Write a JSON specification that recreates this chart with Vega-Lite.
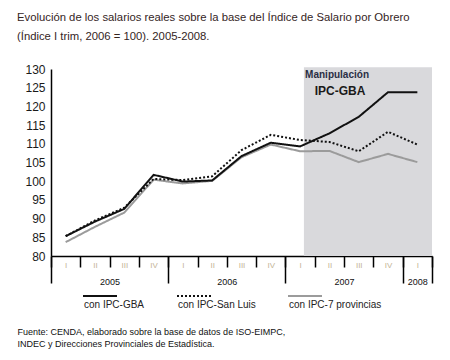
{
  "$schema": "https://vega.github.io/schema/vega-lite/v6.json",
  "width": 381,
  "height": 187,
  "autosize": {"type": "none"},
  "padding": {"left": 51, "top": 69, "right": 18, "bottom": 104},
  "background": "white",
  "config": {
    "font": "Liberation Sans",
    "view": {"stroke": null}
  },
  "title": {
    "text": ["Evolución de los salarios reales sobre la base del Índice de Salario por Obrero", "(Índice I trim, 2006 = 100). 2005-2008."],
    "anchor": "start",
    "frame": "group",
    "dx": -34,
    "offset": 21,
    "fontSize": 11.3,
    "fontWeight": "normal",
    "color": "#35251e",
    "lineHeight": 19
  },
  "resolve": {"axis": {"x": "independent"}},
  "layer": [
    {
      "data": {"values": [{"s": 9.13, "e": 13.5, "lo": 80, "hi": 130.5}]},
      "mark": {"type": "rect", "color": "#d9d9dc"},
      "encoding": {
        "x": {"field": "s", "type": "quantitative", "scale": {"domain": [0.5, 13.5], "nice": false, "zero": false},
          "axis": {"orient": "bottom", "values": [0.5,1.5,2.5,3.5,4.5,5.5,6.5,7.5,8.5,9.5,10.5,11.5,12.5,13.5], "labels": false, "tickSize": 11, "tickColor": "#000", "tickWidth": 1.5, "domainColor": "#000", "domainWidth": 1.5, "grid": false, "title": null}},
        "x2": {"field": "e"},
        "y": {"field": "lo", "type": "quantitative", "scale": {"domain": [80, 130], "nice": false, "zero": false},
          "axis": {"orient": "left", "values": [80,85,90,95,100,105,110,115,120,125,130], "ticks": false, "grid": false, "title": null, "domainColor": "#000", "domainWidth": 1.5, "labelFontSize": 12, "labelColor": "#1a1a1a", "labelPadding": 6, "labelFlush": false, "labelOverlap": false}},
        "y2": {"field": "hi"}
      }
    },
    {
      "data": {"values": [
        {"q": 1, "s": "con IPC-7 provincias", "v": 83.7},
        {"q": 2, "s": "con IPC-7 provincias", "v": 87.8},
        {"q": 3, "s": "con IPC-7 provincias", "v": 91.6},
        {"q": 4, "s": "con IPC-7 provincias", "v": 100.4},
        {"q": 5, "s": "con IPC-7 provincias", "v": 99.4},
        {"q": 6, "s": "con IPC-7 provincias", "v": 100.1},
        {"q": 7, "s": "con IPC-7 provincias", "v": 106.4},
        {"q": 8, "s": "con IPC-7 provincias", "v": 109.8},
        {"q": 9, "s": "con IPC-7 provincias", "v": 108.0},
        {"q": 10, "s": "con IPC-7 provincias", "v": 108.1},
        {"q": 11, "s": "con IPC-7 provincias", "v": 105.1},
        {"q": 12, "s": "con IPC-7 provincias", "v": 107.3},
        {"q": 13, "s": "con IPC-7 provincias", "v": 105.1},
        {"q": 1, "s": "con IPC-San Luis", "v": 85.3},
        {"q": 2, "s": "con IPC-San Luis", "v": 89.5},
        {"q": 3, "s": "con IPC-San Luis", "v": 92.9},
        {"q": 4, "s": "con IPC-San Luis", "v": 100.6},
        {"q": 5, "s": "con IPC-San Luis", "v": 100.3},
        {"q": 6, "s": "con IPC-San Luis", "v": 101.3},
        {"q": 7, "s": "con IPC-San Luis", "v": 108.3},
        {"q": 8, "s": "con IPC-San Luis", "v": 112.4},
        {"q": 9, "s": "con IPC-San Luis", "v": 111.0},
        {"q": 10, "s": "con IPC-San Luis", "v": 110.5},
        {"q": 11, "s": "con IPC-San Luis", "v": 108.0},
        {"q": 12, "s": "con IPC-San Luis", "v": 113.2},
        {"q": 13, "s": "con IPC-San Luis", "v": 109.8},
        {"q": 1, "s": "con IPC-GBA", "v": 85.3},
        {"q": 2, "s": "con IPC-GBA", "v": 89.2},
        {"q": 3, "s": "con IPC-GBA", "v": 92.6},
        {"q": 4, "s": "con IPC-GBA", "v": 101.7},
        {"q": 5, "s": "con IPC-GBA", "v": 99.9},
        {"q": 6, "s": "con IPC-GBA", "v": 100.2},
        {"q": 7, "s": "con IPC-GBA", "v": 106.7},
        {"q": 8, "s": "con IPC-GBA", "v": 110.3},
        {"q": 9, "s": "con IPC-GBA", "v": 109.3},
        {"q": 10, "s": "con IPC-GBA", "v": 112.8},
        {"q": 11, "s": "con IPC-GBA", "v": 117.2},
        {"q": 12, "s": "con IPC-GBA", "v": 123.8},
        {"q": 13, "s": "con IPC-GBA", "v": 123.8}
      ]},
      "mark": {"type": "line", "strokeWidth": 2},
      "encoding": {
        "x": {"field": "q", "type": "quantitative", "scale": {"domain": [0.5, 13.5], "nice": false, "zero": false},
          "axis": {"orient": "bottom", "values": [1,2,3,4,5,6,7,8,9,10,11,12,13], "ticks": false, "tickSize": 0, "domain": false, "grid": false, "title": null,
            "labelExpr": "['I','II','III','IV'][(datum.value - 1) % 4]", "labelColor": "#c4b496", "labelFontSize": 8, "labelPadding": 9, "labelBaseline": "middle", "labelFlush": false, "labelOverlap": false}},
        "y": {"field": "v", "type": "quantitative", "scale": {"domain": [80, 130], "nice": false, "zero": false},
          "axis": {"orient": "left", "values": [80,85,90,95,100,105,110,115,120,125,130], "ticks": false, "grid": false, "title": null, "domainColor": "#000", "domainWidth": 1.5, "labelFontSize": 12, "labelColor": "#1a1a1a", "labelPadding": 6, "labelFlush": false, "labelOverlap": false}},
        "color": {"field": "s", "type": "nominal", "sort": ["con IPC-GBA", "con IPC-San Luis", "con IPC-7 provincias"],
          "scale": {"domain": ["con IPC-GBA", "con IPC-San Luis", "con IPC-7 provincias"], "range": ["#111111", "#111111", "#9b9b9b"]},
          "legend": {"title": null, "orient": "none", "legendX": 31, "legendY": 218, "direction": "horizontal", "columns": 3, "columnPadding": 28, "symbolType": "M-1,-0.53H1", "symbolFillColor": "transparent", "symbolSize": 1156, "symbolStrokeWidth": 2, "labelFontSize": 10, "labelColor": "#222", "labelOffset": -34}},
        "strokeDash": {"field": "s", "type": "nominal", "sort": ["con IPC-GBA", "con IPC-San Luis", "con IPC-7 provincias"],
          "scale": {"domain": ["con IPC-GBA", "con IPC-San Luis", "con IPC-7 provincias"], "range": [[1, 0], [2, 2], [1, 0]]},
          "legend": {"title": null, "orient": "none", "legendX": 31, "legendY": 218, "direction": "horizontal", "columns": 3, "columnPadding": 28, "symbolType": "M-1,-0.53H1", "symbolFillColor": "transparent", "symbolSize": 1156, "symbolStrokeWidth": 2, "labelFontSize": 10, "labelColor": "#222", "labelOffset": -34}}
      }
    },
    {
      "data": {"values": [{"x": 9.17, "y": 127.6, "t": "Manipulación"}]},
      "mark": {"type": "text", "align": "left", "baseline": "alphabetic", "fontSize": 10, "fontWeight": "bold", "color": "#2a2e45"},
      "encoding": {
        "x": {"field": "x", "type": "quantitative", "scale": {"domain": [0.5, 13.5], "nice": false, "zero": false},
          "axis": {"orient": "bottom", "values": [0.5, 4.5, 8.5, 12.5, 13.5], "labels": false, "tickSize": 27, "tickColor": "#000", "tickWidth": 1.5, "domain": false, "grid": false, "title": null}},
        "y": {"field": "y", "type": "quantitative", "scale": {"domain": [80, 130], "nice": false, "zero": false},
          "axis": {"orient": "left", "values": [80,85,90,95,100,105,110,115,120,125,130], "ticks": false, "grid": false, "title": null, "domainColor": "#000", "domainWidth": 1.5, "labelFontSize": 12, "labelColor": "#1a1a1a", "labelPadding": 6, "labelFlush": false, "labelOverlap": false}},
        "text": {"field": "t"}
      }
    },
    {
      "data": {"values": [{"x": 9.5, "y": 123.0, "t": "IPC-GBA"}]},
      "mark": {"type": "text", "align": "left", "baseline": "alphabetic", "fontSize": 12, "fontWeight": "bold", "color": "#1a1a1a"},
      "encoding": {
        "x": {"field": "x", "type": "quantitative", "scale": {"domain": [0.5, 13.5], "nice": false, "zero": false},
          "axis": {"orient": "bottom", "values": [2.5, 6.5, 10.5, 13], "ticks": false, "tickSize": 0, "domain": false, "grid": false,
            "labelExpr": "datum.value < 4 ? '2005' : datum.value < 8 ? '2006' : datum.value < 12 ? '2007' : '2008'",
            "labelFontSize": 9, "labelColor": "#111", "labelPadding": 25, "labelBaseline": "middle", "labelFlush": false, "labelOverlap": false,
            "title": ["Fuente: CENDA, elaborado sobre la base de datos de ISO-EIMPC,", "INDEC y Direcciones Provinciales de Estadística."],
            "titleAnchor": "start", "titleAlign": "left", "titleBaseline": "top", "titleX": -34, "titleY": 71, "titleFontSize": 9, "titleFontWeight": "normal", "titleColor": "#111", "titleLineHeight": 12}},
        "y": {"field": "y", "type": "quantitative", "scale": {"domain": [80, 130], "nice": false, "zero": false},
          "axis": {"orient": "left", "values": [80,85,90,95,100,105,110,115,120,125,130], "ticks": false, "grid": false, "title": null, "domainColor": "#000", "domainWidth": 1.5, "labelFontSize": 12, "labelColor": "#1a1a1a", "labelPadding": 6, "labelFlush": false, "labelOverlap": false}},
        "text": {"field": "t"}
      }
    }
  ]
}
